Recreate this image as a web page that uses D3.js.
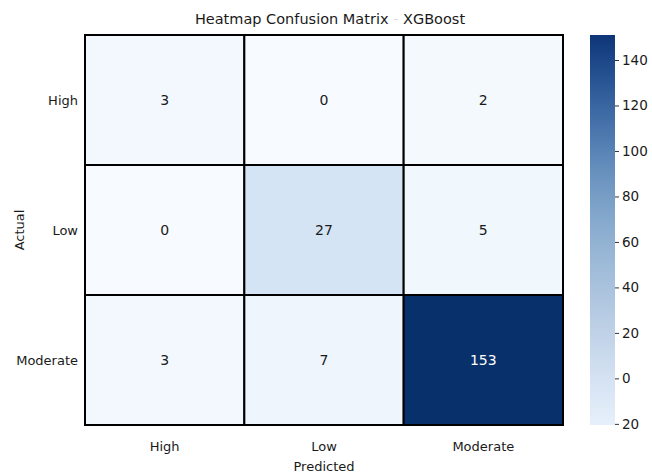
<!DOCTYPE html>
<html>
<head>
<meta charset="utf-8">
<script src="https://cdn.jsdelivr.net/npm/d3@7"></script>
<style>
  html, body { margin: 0; padding: 0; background: #ffffff; }
  svg { display: block; font-family: "DejaVu Sans", sans-serif; }
</style>
</head>
<body>
<svg id="chart" width="652" height="474"></svg>
<script>
// Confusion matrix for the XGBoost classifier
const classes = ["High", "Low", "Moderate"];          // actual (rows) and predicted (columns)
const matrix = [
  [3, 0, 2],
  [0, 27, 5],
  [3, 7, 153]
];
const colorbarTicks = [140, 120, 100, 80, 60, 40, 20, 0, -20];
const colorbarTickLabels = ["140", "120", "100", "80", "60", "40", "20", "0", "20"];
const colorbarDomain = [-20.5, 151];

// muted blue ramp used for the colour bar (light → dark)
const barPalette = ["#e6f0fb", "#d4e2f2", "#bdd0e6", "#a5bfdb", "#8caed0", "#6f97c2", "#4b77ae", "#2a5797", "#0e3577"];

const svg = d3.select("#chart");
const plot = { left: 85, top: 35, right: 563, bottom: 425 };

const x = d3.scaleBand().domain(classes).range([plot.left, plot.right]);
const y = d3.scaleBand().domain(classes).range([plot.top, plot.bottom]);

const maxVal = d3.max(matrix.flat());
const color = d3.scaleSequential(d3.interpolateBlues).domain([0, maxVal]);

const cells = [];
matrix.forEach((row, i) => row.forEach((v, j) => cells.push({ actual: classes[i], predicted: classes[j], value: v })));

// heatmap cells
svg.append("g").selectAll("rect")
  .data(cells)
  .join("rect")
  .attr("x", d => x(d.predicted))
  .attr("y", d => y(d.actual))
  .attr("width", x.bandwidth())
  .attr("height", y.bandwidth())
  .attr("fill", d => color(d.value))
  .attr("stroke", "#000")
  .attr("stroke-width", 2);

// cell annotations
svg.append("g").selectAll("text")
  .data(cells)
  .join("text")
  .attr("x", d => x(d.predicted) + x.bandwidth() / 2)
  .attr("y", d => y(d.actual) + y.bandwidth() / 2)
  .attr("text-anchor", "middle")
  .attr("dominant-baseline", "central")
  .attr("font-size", 14)
  .attr("fill", d => d.value > maxVal * 0.6 ? "#ffffff" : "#1a1a1a")
  .text(d => d.value);

// x tick labels
svg.append("g").selectAll("text")
  .data(classes)
  .join("text")
  .attr("x", d => x(d) + x.bandwidth() / 2)
  .attr("y", 451)
  .attr("text-anchor", "middle")
  .attr("font-size", 13)
  .attr("fill", "#1a1a1a")
  .text(d => d);

// y tick labels
svg.append("g").selectAll("text")
  .data(classes)
  .join("text")
  .attr("x", 78)
  .attr("y", d => y(d) + y.bandwidth() / 2)
  .attr("text-anchor", "end")
  .attr("dominant-baseline", "central")
  .attr("font-size", 13)
  .attr("fill", "#1a1a1a")
  .text(d => d);

// axis titles
svg.append("text")
  .attr("x", (plot.left + plot.right) / 2)
  .attr("y", 471)
  .attr("text-anchor", "middle")
  .attr("font-size", 13)
  .attr("fill", "#1a1a1a")
  .text("Predicted");

svg.append("text")
  .attr("transform", `translate(24,${(plot.top + plot.bottom) / 2}) rotate(-90)`)
  .attr("text-anchor", "middle")
  .attr("font-size", 13)
  .attr("fill", "#1a1a1a")
  .text("Actual");

// title
const title = svg.append("text")
  .attr("x", 330)
  .attr("y", 24)
  .attr("text-anchor", "middle")
  .attr("font-size", 14.5)
  .attr("fill", "#1a1a1a");
title.append("tspan").text("Heatmap Confusion Matrix ");
title.append("tspan").attr("fill", "#dddddd").text("-");
title.append("tspan").text(" XGBoost");

// colorbar
const cb = { x: 590, width: 25, top: 35, bottom: 425 };
const cbScale = d3.scaleLinear().domain(colorbarDomain).range([cb.bottom, cb.top]);
const barInterp = d3.interpolateRgbBasis(barPalette);

const defs = svg.append("defs");
const grad = defs.append("linearGradient")
  .attr("id", "cbGrad")
  .attr("x1", 0).attr("y1", 1).attr("x2", 0).attr("y2", 0);
d3.range(0, 1.0001, 0.05).forEach(t => {
  grad.append("stop")
    .attr("offset", t)
    .attr("stop-color", barInterp(t));
});

svg.append("rect")
  .attr("x", cb.x)
  .attr("y", cb.top)
  .attr("width", cb.width)
  .attr("height", cb.bottom - cb.top)
  .attr("fill", "url(#cbGrad)");

const cbAxis = svg.append("g")
  .attr("transform", `translate(${cb.x + cb.width},0)`)
  .call(d3.axisRight(cbScale)
    .tickValues(colorbarTicks)
    .tickFormat((d, i) => colorbarTickLabels[i])
    .tickSize(4)
    .tickPadding(3));
cbAxis.select(".domain").remove();
cbAxis.selectAll("line").attr("stroke", "#333");
cbAxis.selectAll("text")
  .attr("font-size", 13.5)
  .attr("font-family", "DejaVu Sans, sans-serif")
  .attr("fill", "#1a1a1a");
</script>
</body>
</html>
